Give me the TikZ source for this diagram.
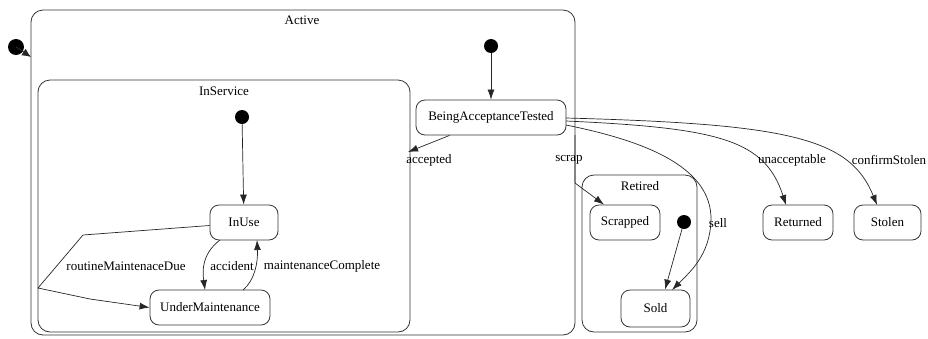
\documentclass[tikz,border=0pt]{standalone}
\usepackage{fontspec}
\setmainfont{Liberation Serif}
\usetikzlibrary{arrows.meta}
\begin{document}
\begin{tikzpicture}[x=1pt,y=-1pt,
  every node/.style={font=\fontsize{13}{15}\selectfont},
  cluster/.style={draw=black!80, line width=0.8pt, rounded corners=12pt, inner sep=0pt},
  state/.style={draw=black!80, line width=0.8pt, rounded corners=9pt, minimum height=35pt, inner sep=0pt},
  initdot/.style={circle, fill=black, inner sep=0pt, minimum size=14pt},
  edge/.style={draw=black!85, line width=0.7pt, -{Latex[length=10pt,width=7pt]}},
  lbl/.style={inner sep=1pt}]
\useasboundingbox (0,0) rectangle (928,338);
% clusters
\node[cluster, minimum width=544pt, minimum height=325pt] (Active) at (303,172.5) {};
\node[anchor=north] (ActiveL) at (302,12) {Active};
\node[cluster, minimum width=372pt, minimum height=252pt] (InService) at (224,206) {};
\node[anchor=north] (InServiceL) at (224,83) {InService};
\node[cluster, minimum width=115pt, minimum height=157pt] (Retired) at (639.5,253.5) {};
\node[anchor=north] (RetiredL) at (640,178) {Retired};
% initial dots
\node[initdot, minimum size=16pt] (i0) at (16,47) {};
\coordinate (i0end) at (31,57);
\node[initdot] (i1) at (491,46) {};
\node[initdot] (i2) at (242,117) {};
\node[initdot] (i3) at (684,222) {};
% states
\node[state, minimum width=150pt] (BAT) at (491,117.5) {BeingAcceptanceTested};
\node[state, minimum width=68pt] (InUse) at (244,222.5) {InUse};
\node[state, minimum width=120pt] (UM) at (210,307.5) {UnderMaintenance};
\node[state, minimum width=70pt] (Scrapped) at (625,222.5) {Scrapped};
\node[state, minimum width=69pt, minimum height=37pt] (Sold) at (655.5,308.5) {Sold};
\node[state, minimum width=70pt] (Returned) at (798,222.5) {Returned};
\node[state, minimum width=67pt] (Stolen) at (887.5,222.5) {Stolen};
% edges
\draw[edge, line width=1pt, -{Latex[length=9pt,width=8pt]}] (i0.center) -- (i0end);
\draw[edge] (i1) -- (BAT);
\draw[edge] (i2) -- (InUse);
\draw[edge] (i3) -- (Sold.north east -| 665,0) ;
\coordinate (accEnd) at (408,152);
\draw[edge] (BAT.south west) ++(34,0) -- (accEnd);
\node[lbl] (accL) at (429,160) {accepted};
\coordinate (scrapA) at (575,135);
\draw[edge] (scrapA) -- (575,183) -- (Scrapped.north -| 604,0);
\node[lbl] (scrapL) at (569,160) {scrap};
\draw[edge] (566,125) .. controls (640,140) and (712,165) .. (711,220) .. controls (710,255) and (690,272) .. (672,290);
\node[lbl] (sellL) at (718,223) {sell};
\draw[edge] (566,121) .. controls (720,128) and (765,140) .. (786,205);
\node[lbl] (unL) at (792,160) {unacceptable};
\draw[edge] (566,118) .. controls (790,124) and (850,138) .. (877,205);
\node[lbl] (csL) at (889,160) {confirmStolen};
% InService internal
\draw[edge] (220,240) .. controls (200,255) and (203,275) .. (205,290);
\node[lbl] (accidL) at (232,266) {accident};
\draw[edge] (243,290) .. controls (255,280) and (258,262) .. (257,240);
\node[lbl] (mcL) at (322,266) {maintenanceComplete};
\draw[edge] (InUse.west) ++(0,3) -- (83,235) -- (38,288) -- (90,299) -- (UM.west);
\node[lbl] (rmL) at (126,266) {routineMaintenaceDue};
\end{tikzpicture}
\end{document}
